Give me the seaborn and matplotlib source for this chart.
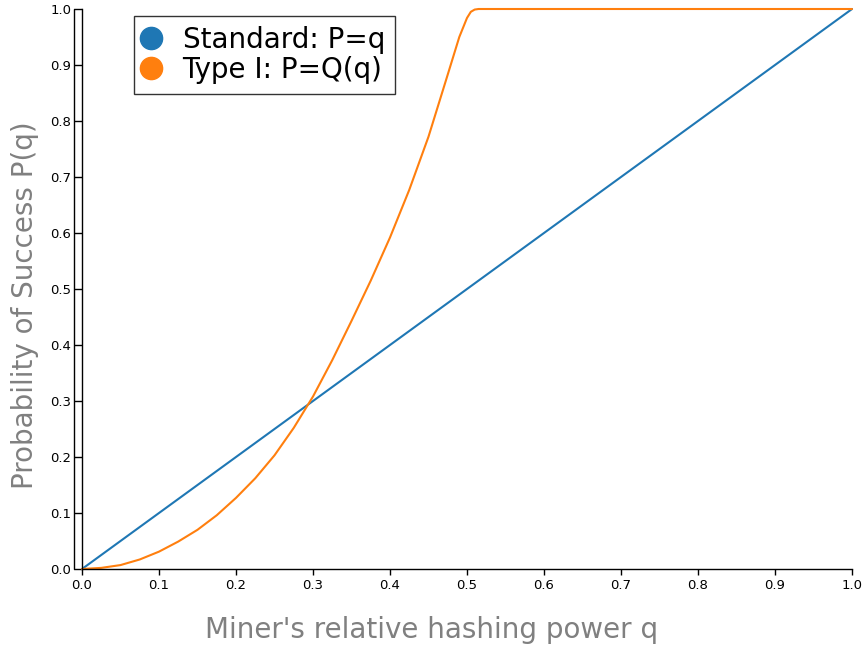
import matplotlib
matplotlib.use("Agg")
import matplotlib.pyplot as plt
import matplotlib.transforms as mtransforms
from matplotlib.lines import Line2D
import seaborn as sns
import pandas as pd

# ---- data ----
standard_q = [0.0, 1.0]
standard_p = [0.0, 1.0]

type1_q = [0.0, 0.025, 0.05, 0.075, 0.1, 0.125, 0.15, 0.175, 0.2, 0.225,
           0.25, 0.275, 0.3, 0.325, 0.35, 0.375, 0.4, 0.425, 0.45, 0.475,
           0.49, 0.5, 0.505, 0.51, 0.515, 1.0]
type1_p = [0.0, 0.002, 0.007, 0.017, 0.031, 0.049, 0.070, 0.096, 0.127, 0.162,
           0.203, 0.252, 0.308, 0.373, 0.443, 0.515, 0.592, 0.677, 0.772, 0.883,
           0.950, 0.984, 0.995, 0.999, 1.0, 1.0]

series_labels = ["Standard: P=q", "Type I: P=Q(q)"]
colors = ["#1f77b4", "#ff7f0e"]
x_ticks = [0.0, 0.1, 0.2, 0.3, 0.4, 0.5, 0.6, 0.7, 0.8, 0.9, 1.0]
y_ticks = [0.0, 0.1, 0.2, 0.3, 0.4, 0.5, 0.6, 0.7, 0.8, 0.9, 1.0]
x_label = "Miner's relative hashing power q"
y_label = "Probability of Success P(q)"

df = pd.concat([
    pd.DataFrame({"q": standard_q, "P": standard_p, "series": series_labels[0]}),
    pd.DataFrame({"q": type1_q, "P": type1_p, "series": series_labels[1]}),
], ignore_index=True)

sns.set_theme(style="ticks")
plt.rcParams["font.family"] = ["DejaVu Sans"]

fig = plt.figure(figsize=(8.64, 6.5), dpi=100)
ax = fig.add_axes([82 / 864, 1 - 569 / 650, 770 / 864, 560 / 650])

sns.lineplot(data=df, x="q", y="P", hue="series", palette=colors,
             sort=False, estimator=None, linewidth=1.5, ax=ax, legend=False)
for ln in ax.lines:
    ln.set_clip_on(False)
    ln.set_solid_joinstyle("round")

ax.set_xlim(0, 1)
ax.set_ylim(0, 1)
ax.set_xticks(x_ticks)
ax.set_yticks(y_ticks)
ax.set_xticklabels([f"{t:.1f}" for t in x_ticks])
ax.set_yticklabels([f"{t:.1f}" for t in y_ticks])
for s in ["top", "right"]:
    ax.spines[s].set_visible(False)
for s in ["left", "bottom"]:
    ax.spines[s].set_linewidth(1.0)
    ax.spines[s].set_color("black")

ylen = 5.8
ax.tick_params(axis="y", length=ylen, width=1.0, labelsize=9.5, colors="black", pad=2)
ax.tick_params(axis="x", length=4.3, width=1.0, labelsize=9.5, colors="black", pad=3)

# outer edge of the y-axis box
off = mtransforms.ScaledTranslation(-ylen / 72, 0, fig.dpi_scale_trans)
ax.plot([0, 0], [0, 1], transform=ax.get_yaxis_transform() + off,
        color="black", linewidth=1.0, clip_on=False)

ax.set_xlabel(x_label, fontsize=20, color="#808080", va="center")
ax.set_ylabel(y_label, fontsize=20, color="#808080", va="center")
ax.xaxis.set_label_coords((432 - 82) / 770, (569 - 630) / 560)
ax.yaxis.set_label_coords((25 - 82) / 770, (569 - 305) / 560)

handles = [Line2D([], [], marker="o", linestyle="none", markersize=16,
                  markerfacecolor=c, markeredgecolor=c) for c in colors]
leg = ax.legend(handles, series_labels, loc="upper left",
                bbox_to_anchor=((134 - 82) / 770, (569 - 16) / 560),
                fontsize=20, frameon=True, fancybox=False, framealpha=1,
                edgecolor="#333333", borderpad=0.35, labelspacing=0.08,
                handletextpad=0.85, handlelength=0.55, borderaxespad=0)
leg.get_frame().set_linewidth(1.0)
for t in leg.get_texts():
    t.set_color("black")

fig.savefig("out.png", dpi=100)
